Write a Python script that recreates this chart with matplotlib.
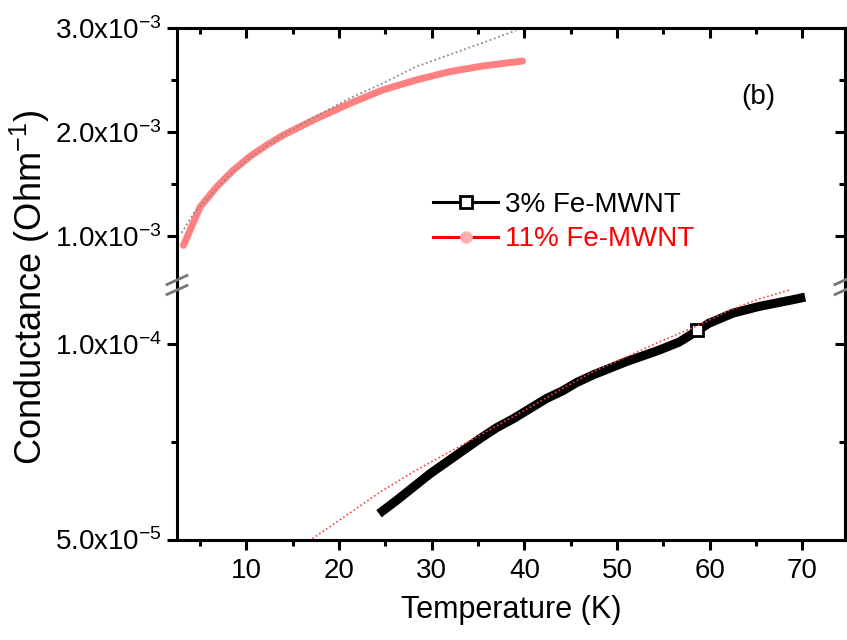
import matplotlib
matplotlib.use("Agg")
import matplotlib.pyplot as plt
from matplotlib.lines import Line2D
from matplotlib.ticker import MultipleLocator, FixedLocator, FuncFormatter, NullFormatter

plt.rcParams['font.family'] = ['Liberation Sans', 'DejaVu Sans']
plt.rcParams['mathtext.fontset'] = 'custom'
plt.rcParams['mathtext.rm'] = 'Liberation Sans'
plt.rcParams['mathtext.default'] = 'regular'

# 11% Fe-MWNT, measured (upper segment)
temp_11 = [3.2, 5.0, 6.8, 8.6, 10.4, 12.2, 14.0, 17.6, 21.2, 24.7, 28.3, 31.9, 35.5, 39.8]
cond_11 = [0.91e-3, 1.28e-3, 1.475e-3, 1.636e-3, 1.768e-3, 1.876e-3, 1.973e-3,
           2.133e-3, 2.278e-3, 2.406e-3, 2.502e-3, 2.582e-3, 2.637e-3, 2.685e-3]

# 11% Fe-MWNT, fitted curve
temp_fit11 = [3.0, 4.3, 6.0, 8.0, 10.0, 13.0, 16.0, 21.0, 24.7, 28.3, 31.9, 35.5, 39.1]
cond_fit11 = [1.03e-3, 1.22e-3, 1.38e-3, 1.57e-3, 1.73e-3, 1.92e-3, 2.08e-3,
              2.32e-3, 2.47e-3, 2.63e-3, 2.745e-3, 2.86e-3, 2.98e-3]

# 3% Fe-MWNT, measured (lower segment)
temp_3 = [24.3, 26.2, 28.0, 29.8, 31.6, 33.4, 35.2, 37.0, 38.8, 40.6, 42.4, 44.1,
          45.6, 47.4, 51.0, 54.6, 56.7, 58.6, 59.9, 62.5, 65.3, 68.9, 70.3]
cond_3 = [5.66e-5, 6.0e-5, 6.34e-5, 6.68e-5, 6.98e-5, 7.28e-5, 7.58e-5, 7.86e-5,
          8.09e-5, 8.35e-5, 8.61e-5, 8.8e-5, 9.01e-5, 9.21e-5, 9.55e-5, 9.85e-5,
          10.05e-5, 10.33e-5, 10.53e-5, 10.79e-5, 10.96e-5, 11.13e-5, 11.2e-5]

# 3% Fe-MWNT, fitted curve
temp_fit3 = [17.1, 20.8, 24.4, 28.0, 31.6, 35.2, 40.0, 44.0, 47.4, 51.0, 54.6,
             58.9, 62.0, 65.3, 68.6]
cond_fit3 = [5.02e-5, 5.62e-5, 6.21e-5, 6.73e-5, 7.2e-5, 7.67e-5, 8.3e-5, 8.85e-5,
             9.29e-5, 9.67e-5, 10.06e-5, 10.49e-5, 10.85e-5, 11.15e-5, 11.38e-5]

top_major = [1e-3, 2e-3, 3e-3]
top_minor = [1.5e-3, 2.5e-3]
bot_major = [5e-5, 1e-4]
bot_minor = [7.5e-5]

W, H = 847, 640
fig = plt.figure(figsize=(W / 100, H / 100), dpi=100)

left, right = 177 / W, 845.0 / W
top, brk, bottom = 1 - 28.3 / H, 1 - 285 / H, 1 - 539.5 / H

ax_top = fig.add_axes([left, brk, right - left, top - brk])
ax_bot = fig.add_axes([left, bottom, right - left, brk - bottom], sharex=ax_top)

lw_spine = 2.2

# upper segment
ax_top.plot(temp_11, cond_11, color='#ff8080', lw=5, solid_capstyle='round', zorder=2)
ax_top.plot(temp_fit11, cond_fit11, color='#8a8a8a', lw=1.3, ls=(0, (1, 1.5)), zorder=3)

# lower segment
ax_bot.plot(temp_3, cond_3, color='black', lw=6.5, solid_capstyle='butt', zorder=2)
ax_bot.plot([58.6], [10.36e-5], marker='s', ms=8, mfc='white', mec='black', mew=2, zorder=3)
ax_bot.plot(temp_fit3, cond_fit3, color='#ff4040', lw=1.2, ls=(0, (1, 1.5)), zorder=4)

ax_top.set_xlim(2.5, 74.6)
ax_top.set_ylim(0.528e-3, 3.0e-3)
ax_bot.set_ylim(5.0e-5, 11.51e-5)


def sci_label(v, pos=None):
    exp = int(f"{v:e}".split('e')[1])
    mant = v / 10 ** exp
    return f"{mant:.1f}x10$^{{{exp}}}$"


for ax, major, minor in ((ax_top, top_major, top_minor), (ax_bot, bot_major, bot_minor)):
    ax.yaxis.set_major_locator(FixedLocator(major))
    ax.yaxis.set_minor_locator(FixedLocator(minor))
    ax.yaxis.set_major_formatter(FuncFormatter(sci_label))
    ax.xaxis.set_major_locator(MultipleLocator(10))
    ax.xaxis.set_minor_locator(MultipleLocator(5))
    for s in ax.spines.values():
        s.set_linewidth(lw_spine)
    ax.tick_params(which='both', width=lw_spine, labelsize=20)
    ax.tick_params(which='major', length=7.5)
    ax.tick_params(which='minor', length=4.5)
    ax.tick_params(axis='y', which='both', left=True, right=False, direction='out', pad=3)

    # right-hand axis with inward ticks
    sec = ax.secondary_yaxis('right')
    sec.yaxis.set_major_locator(FixedLocator(major))
    sec.yaxis.set_minor_locator(FixedLocator(minor))
    sec.yaxis.set_major_formatter(NullFormatter())
    sec.spines['right'].set_linewidth(lw_spine)
    sec.tick_params(which='both', direction='in', width=lw_spine)
    sec.tick_params(which='major', length=7.5)
    sec.tick_params(which='minor', length=4.5)

ax_top.spines['bottom'].set_visible(False)
ax_top.tick_params(axis='x', which='both', bottom=False, labelbottom=False,
                   top=True, direction='in')
ax_bot.spines['top'].set_visible(False)
ax_bot.tick_params(axis='x', which='both', top=False, bottom=True,
                   direction='out', pad=6)

ax_bot.set_xlabel('Temperature (K)', fontsize=22, labelpad=8)
fig.text(30 / W, 1 - 287 / H, 'Conductance (Ohm$^{-1}$)', rotation=90,
         ha='center', va='center', fontsize=26)

ax_top.text(758 / W, 1 - 97 / H, '(b)', transform=fig.transFigure,
            ha='center', va='center', fontsize=20)

# axis break marks
for xb in (left, right):
    for dy in (-5, 5):
        y0 = brk + dy / H
        fig.add_artist(Line2D([xb - 10 / W, xb + 10 / W], [y0 - 4.5 / H, y0 + 4.5 / H],
                              color='#777777', lw=2, transform=fig.transFigure))

handles = [
    Line2D([], [], color='black', lw=2.2, marker='s', ms=8, mfc='white', mec='black', mew=2),
    Line2D([], [], color='red', lw=2.2, marker='o', ms=8, mfc='#ffb0b0', mec='#ffb0b0'),
]
fig.legend(handles, ['3% Fe-MWNT', '11% Fe-MWNT'], loc='upper left',
           bbox_to_anchor=(433 / W, 1 - 192 / H), frameon=False, fontsize=20,
           handlelength=2.35, handletextpad=0.25, labelspacing=0.3,
           borderpad=0, borderaxespad=0, labelcolor=['black', 'red'])

fig.savefig('out.png', dpi=100)
